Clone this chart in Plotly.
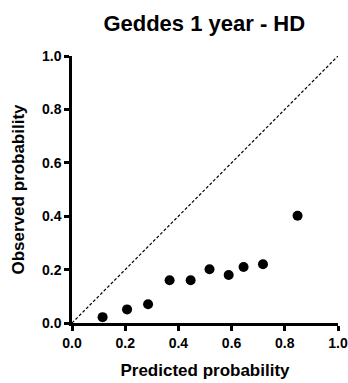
import plotly.graph_objects as go

predicted = [0.115, 0.207, 0.286, 0.367, 0.446, 0.517, 0.589, 0.645, 0.718, 0.848]
observed = [0.022, 0.051, 0.070, 0.160, 0.160, 0.201, 0.180, 0.210, 0.220, 0.402]
ref_line = [0.0, 1.0]
tick_vals = [0.0, 0.2, 0.4, 0.6, 0.8, 1.0]
tick_text = ["0.0", "0.2", "0.4", "0.6", "0.8", "1.0"]

FONT = "Liberation Sans, Arial, sans-serif"

fig = go.Figure()
fig.add_trace(go.Scatter(x=ref_line, y=ref_line, mode="lines",
                         line=dict(color="black", width=1.2, dash="3px,2px"),
                         hoverinfo="skip", showlegend=False))
fig.add_trace(go.Scatter(x=predicted, y=observed, mode="markers",
                         marker=dict(color="black", size=10),
                         showlegend=False, cliponaxis=False))

axis_common = dict(range=[0, 1], tickvals=tick_vals, ticktext=tick_text,
                   showgrid=False, zeroline=False, showline=True,
                   linecolor="black", linewidth=2.5, ticks="outside",
                   ticklen=5, tickwidth=2.5, tickcolor="black", automargin=False,
                   tickfont=dict(family=FONT, size=14, color="black", weight="bold"))

fig.update_layout(
    width=348, height=383,
    margin=dict(l=72, r=10, t=56, b=60),
    paper_bgcolor="white", plot_bgcolor="white",
    title=dict(text="<b>Geddes 1 year - HD</b>", x=0.587, xanchor="center",
               y=0.94, yanchor="middle", automargin=False,
               font=dict(family=FONT, size=22, color="black")),
    xaxis=dict(**axis_common,
               title=dict(text="<b>Predicted probability</b>", standoff=15,
                          font=dict(family=FONT, size=17, color="black"))),
    yaxis=dict(**axis_common,
               title=dict(text="<b>Observed probability</b>", standoff=14,
                          font=dict(family=FONT, size=17, color="black"))),
)

fig.write_html("out.html")
